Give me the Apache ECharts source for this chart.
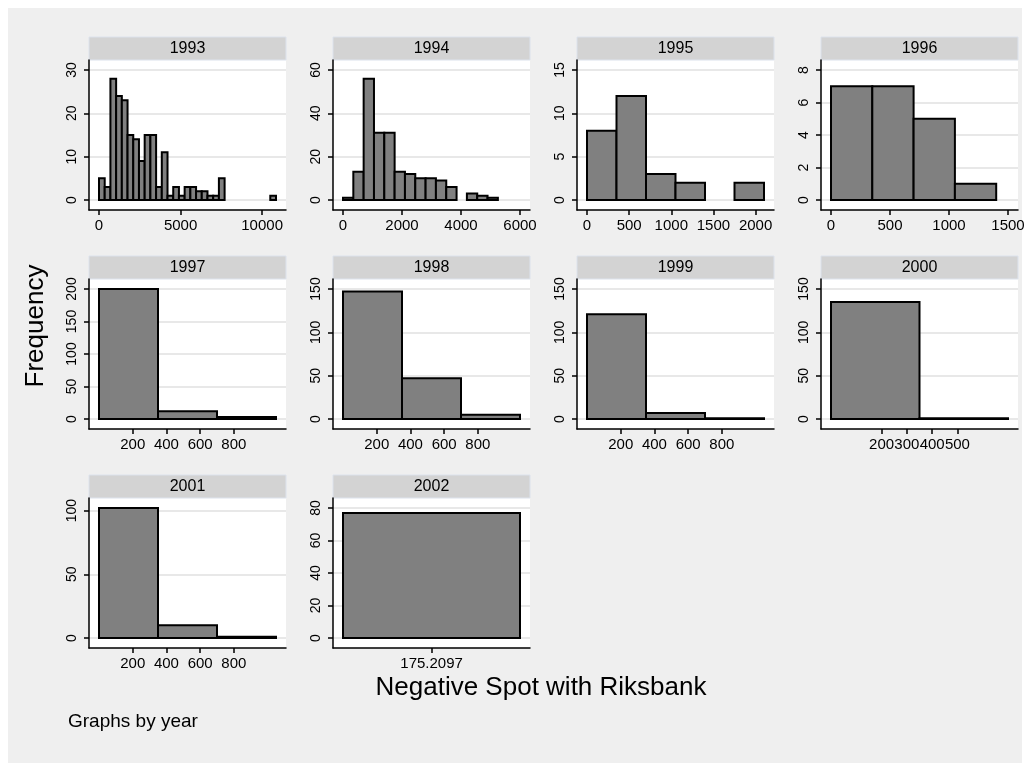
<!DOCTYPE html>
<html>
<head>
<meta charset="utf-8">
<script src="https://cdn.jsdelivr.net/npm/echarts@6/dist/echarts.min.js"></script>
<style>
html, body { margin: 0; padding: 0; background: #fff; }
#bg { position: absolute; left: 8px; top: 8px; width: 1014px; height: 755px; background: #efefef; }
#main { position: absolute; left: 0; top: 0; width: 1031px; height: 763px; }
</style>
</head>
<body>
<div id="bg"></div>
<div id="main"></div>
<script>
// histogram bins are 350 wide, starting at 0
const years = ["1993", "1994", "1995", "1996", "1997", "1998", "1999", "2000", "2001", "2002"]
const binWidth = 350

const counts1993 = [5, 3, 28, 24, 23, 15, 14, 9, 15, 15, 3, 11, 1, 3, 1, 3, 3, 2, 2, 1, 1, 5, 0, 0, 0, 0, 0, 0, 0, 0, 1]
const counts1994 = [1, 13, 56, 31, 31, 13, 12, 10, 10, 9, 6, 0, 3, 2, 1]
const counts1995 = [8, 12, 3, 2, 0, 2]
const counts1996 = [7, 7, 5, 1]
const counts1997 = [200, 12, 3]
const counts1998 = [147, 47, 5]
const counts1999 = [121, 7, 1]
const counts2000 = [135, 1]
const counts2001 = [102, 10, 1]
const counts2002 = [77]

const xTicks1993 = [0, 5000, 10000]
const xTicks1994 = [0, 2000, 4000, 6000]
const xTicks1995 = [0, 500, 1000, 1500, 2000]
const xTicks1996 = [0, 500, 1000, 1500]
const xTicksLate = [200, 400, 600, 800]
const xTicks2000 = [200, 300, 400, 500]
const xTicks2002 = [175.2097]

const yTicks1993 = [0, 10, 20, 30]
const yTicks1994 = [0, 20, 40, 60]
const yTicks1995 = [0, 5, 10, 15]
const yTicks1996 = [0, 2, 4, 6, 8]
const yTicks1997 = [0, 50, 100, 150, 200]
const yTicks150 = [0, 50, 100, 150]
const yTicks2001 = [0, 50, 100]
const yTicks2002 = [0, 20, 40, 60, 80]

const panelCounts = [counts1993, counts1994, counts1995, counts1996, counts1997, counts1998, counts1999, counts2000, counts2001, counts2002]
const panelXTicks = [xTicks1993, xTicks1994, xTicks1995, xTicks1996, xTicksLate, xTicksLate, xTicksLate, xTicks2000, xTicksLate, xTicks2002]
const panelYTicks = [yTicks1993, yTicks1994, yTicks1995, yTicks1996, yTicks1997, yTicks150, yTicks150, yTicks150, yTicks2001, yTicks2002]

const font = "'Liberation Sans', Arial, sans-serif"
const colLeft = [89, 333, 577, 821]
const rowTop = [60, 279, 498]
const plotW = 197
const plotH = 150
const pad = 10
const stripH = 23

const chart = echarts.init(document.getElementById("main"))

const grids = []
const xAxes = []
const yAxes = []
const series = []
const graphics = []

years.forEach((year, i) => {
	const left = colLeft[i % 4]
	const top = rowTop[Math.floor(i / 4)]
	const counts = panelCounts[i]
	const xt = panelXTicks[i]
	const yt = panelYTicks[i]
	const bins = counts.map((c, k) => [k * binWidth, (k + 1) * binWidth, c])

	// stata leaves a small margin inside the plot region
	const xLo = Math.min(0, ...xt)
	const xHi = Math.max(counts.length * binWidth, ...xt)
	const yHi = Math.max(Math.max(...yt), Math.max(...counts))
	const xu = (xHi - xLo) / (plotW - 2 * pad)
	const yu = yHi / (plotH - 2 * pad)

	grids.push({ left: left, top: top, width: plotW, height: plotH, show: true, backgroundColor: "#fff", borderWidth: 0 })

	xAxes.push({
		type: "value",
		gridIndex: i,
		min: xLo - pad * xu,
		max: xHi + pad * xu,
		axisLine: { show: true, onZero: false, lineStyle: { color: "#000", width: 1.5 } },
		axisTick: { show: true, length: 5, customValues: xt, lineStyle: { color: "#000", width: 1.5 } },
		axisLabel: { customValues: xt, fontSize: 15, color: "#000", fontFamily: font, margin: 8, formatter: (v) => String(v) },
		splitLine: { show: false }
	})

	yAxes.push({
		type: "value",
		gridIndex: i,
		min: -pad * yu,
		max: yHi + pad * yu,
		axisLine: { show: true, onZero: false, lineStyle: { color: "#000", width: 1.5 } },
		axisTick: { show: true, length: 5, customValues: yt, lineStyle: { color: "#000", width: 1.5 } },
		axisLabel: { customValues: yt, rotate: 90, fontSize: 14, color: "#000", fontFamily: font, margin: 10, formatter: (v) => String(v) },
		splitLine: { show: true, lineStyle: { color: "#e8e8e8", width: 2 } }
	})

	series.push({
		type: "custom",
		xAxisIndex: i,
		yAxisIndex: i,
		silent: true,
		encode: { x: [0, 1], y: 2 },
		data: bins,
		renderItem: function (params, api) {
			if (!api.value(2)) {
				return null
			}
			const p0 = api.coord([api.value(0), 0])
			const p1 = api.coord([api.value(1), api.value(2)])
			return {
				type: "rect",
				shape: { x: p0[0], y: p1[1], width: p1[0] - p0[0], height: p0[1] - p1[1] },
				style: { fill: "#808080", stroke: "#000", lineWidth: 2 }
			}
		}
	})

	graphics.push({
		type: "rect",
		shape: { x: left, y: top - stripH, width: plotW, height: stripH },
		style: { fill: "#d3d3d3", stroke: "#dce2ec", lineWidth: 1 }
	})
	graphics.push({
		type: "text",
		x: left + plotW / 2,
		y: top - stripH / 2,
		style: { text: year, fontSize: 16, fontFamily: font, fill: "#000", align: "center", verticalAlign: "middle", textAlign: "center", textVerticalAlign: "middle" }
	})
})

graphics.push({
	type: "text",
	x: 36,
	y: 326,
	rotation: Math.PI / 2,
	style: { text: "Frequency", fontSize: 26, fontFamily: font, fill: "#000", align: "center", verticalAlign: "middle", textAlign: "center", textVerticalAlign: "middle" }
})
graphics.push({
	type: "text",
	x: 541,
	y: 688,
	style: { text: "Negative Spot with Riksbank", fontSize: 26, fontFamily: font, fill: "#000", align: "center", verticalAlign: "middle", textAlign: "center", textVerticalAlign: "middle" }
})
graphics.push({
	type: "text",
	x: 68,
	y: 722,
	style: { text: "Graphs by year", fontSize: 19, fontFamily: font, fill: "#000", align: "left", verticalAlign: "middle", textAlign: "left", textVerticalAlign: "middle" }
})

chart.setOption({
	animation: false,
	backgroundColor: "transparent",
	grid: grids,
	xAxis: xAxes,
	yAxis: yAxes,
	series: series,
	graphic: { elements: graphics }
})
</script>
</body>
</html>
